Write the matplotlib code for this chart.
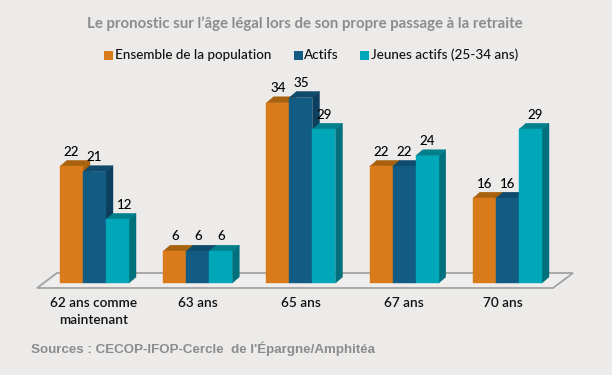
import matplotlib
matplotlib.use("Agg")
import matplotlib.pyplot as plt
from matplotlib.patches import Polygon, Rectangle

categories = ["62 ans comme\nmaintenant", "63 ans", "65 ans", "67 ans", "70 ans"]
series_names = ["Ensemble de la population", "Actifs", "Jeunes actifs (25-34 ans)"]
ensemble = [22, 6, 34, 22, 16]
actifs = [21, 6, 35, 22, 16]
jeunes = [12, 6, 29, 24, 29]

W, H = 612, 375
BG = "#ECEBEA"
FRONT = ["#D97B1A", "#125B82", "#00A7B8"]
TOP = ["#A8620F", "#0E4A6B", "#007F8C"]
SIDE = ["#A8620F", "#0C3F5E", "#00707C"]

# pixel scale of the plot
px_per_x = 103.25
px_per_y = 5.3
x0_px = 94.5
y0_px = 283
bar_w = 23 / px_per_x
dx = 7 / px_per_x
dy = 6 / px_per_y

fig = plt.figure(figsize=(W / 100, H / 100), dpi=100, facecolor=BG)
ax = fig.add_axes([0, 0, 1, 1])
ax.set_xlim(-x0_px / px_per_x, (W - x0_px) / px_per_x)
ax.set_ylim(-(H - y0_px) / px_per_y, y0_px / px_per_y)
ax.axis("off")


def px(x, y):
    return (x - x0_px) / px_per_x, (y0_px - y) / px_per_y


# floor
floor = [px(37, 288), px(553, 288), px(573, 273), px(57, 273)]
ax.add_patch(Polygon(floor, closed=True, facecolor="#EFEEED", edgecolor="#A3A3A3", lw=1.3, zorder=1))

# labels pushed right in the original, (series, group) -> px
label_shift = {(2, 0): 7, (2, 4): 5}

for s, values in enumerate([ensemble, actifs, jeunes]):
    for i, v in enumerate(values):
        left = i + (s - 1.5) * bar_w
        right = left + bar_w
        ax.add_patch(Polygon([(right, 0), (right + dx, dy), (right + dx, v + dy), (right, v)],
                             closed=True, facecolor=SIDE[s], edgecolor=SIDE[s], lw=0.3, zorder=2 + s))
        ax.add_patch(Polygon([(left, v), (right, v), (right + dx, v + dy), (left + dx, v + dy)],
                             closed=True, facecolor=TOP[s], edgecolor=TOP[s], lw=0.3, zorder=2 + s))
        ax.add_patch(Rectangle((left, 0), bar_w, v, facecolor=FRONT[s], edgecolor=FRONT[s], lw=0.3, zorder=2 + s))
        ax.text(left + bar_w / 2 + label_shift.get((s, i), 0) / px_per_x, v + 14.7 / px_per_y, str(v),
                ha="center", va="center", fontsize=9.6, family="Lato", fontweight="medium",
                color="black", zorder=10)

cat_shift = [-1, 0, 0, 0, -5]
for i, cat in enumerate(categories):
    ax.text(i + cat_shift[i] / px_per_x, -14 / px_per_y, cat, ha="center", va="top", fontsize=9.8, family="Lato",
            fontweight="semibold", color="#111111", linespacing=1.45, zorder=10)

# title
xt, yt = px(305, 24)
ax.text(xt, yt, "Le pronostic sur l’âge légal lors de son propre passage à la retraite", ha="center", va="center",
        fontsize=10.8, family="Lato", fontweight="bold", color="#8C8C8C")

# legend
for name, color, sq_x, tx_x in zip(series_names, FRONT, [104, 294, 360], [115, 304, 371]):
    x1, y1 = px(sq_x, 60)
    ax.add_patch(Rectangle((x1, y1), 9 / px_per_x, 9 / px_per_y, facecolor=color, edgecolor="none"))
    x2, y2 = px(tx_x, 55)
    ax.text(x2, y2, name, ha="left", va="center", fontsize=9.7, family="Lato", fontweight="medium", color="#111111")

# source
xs, ys = px(31, 349)
ax.text(xs, ys, "Sources : CECOP-IFOP-Cercle  de l'Épargne/Amphitéa", ha="left", va="center",
        fontsize=9.6, family="Liberation Sans", fontweight="bold", color="#8C8C8C")

fig.savefig("out.png", dpi=100, facecolor=BG)
